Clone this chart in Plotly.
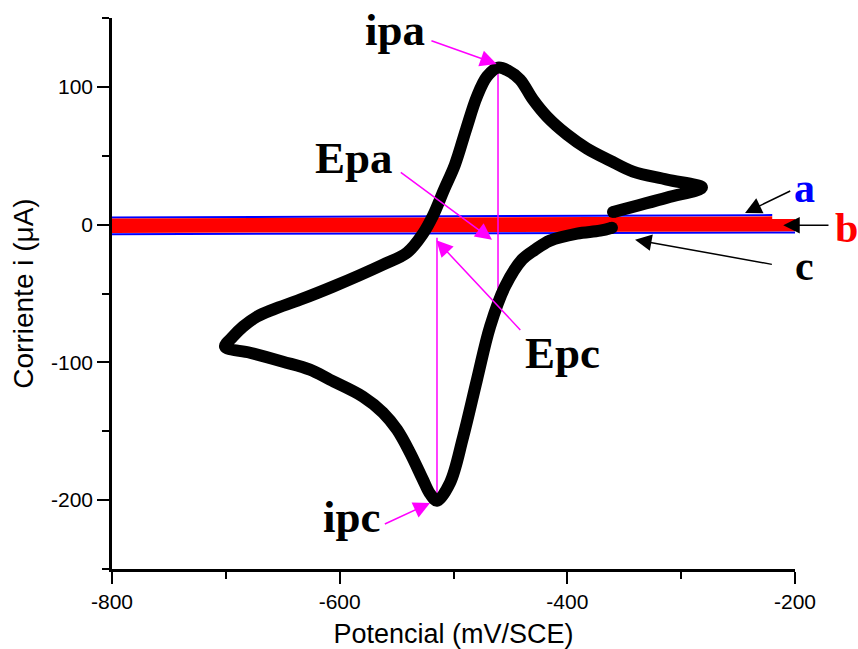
import numpy as np
import plotly.graph_objects as go

# --- Voltammogram c (black): scan starts near -360 mV, goes cathodic to -700 mV,
#     returns anodic to -280 mV and back to -360 mV ---
potential_c = [
    -360.8, -371.3, -391.5, -415.2, -428.4, -439.8, -454.8, -467.9, -479.4, -491.7,
    -503.1, -514.5, -520.6, -526.8, -538.2, -549.6, -561.9, -579.5, -608.5, -626.1,
    -649.8, -678.8, -700.7,
    -693.7, -684.9, -672.6, -658.6, -634.8, -605.9, -561.9, -540.8, -526.8, -518.0,
    -508.3, -498.7, -489.0, -479.4, -470.6, -460.9, -452.1, -441.6, -430.2, -417.9,
    -400.3, -382.7, -362.5, -342.3, -312.4, -281.7, -312.4, -359.9,
]
current_c = [
    -2.2, -4.4, -6.5, -11.6, -18.2, -25.4, -45.0, -74.1, -112.6, -154.7,
    -187.4, -200.4, -195.4, -185.2, -165.6, -148.9, -136.5, -124.9, -112.6, -105.3,
    -99.5, -93.0, -88.6,
    -81.3, -74.1, -66.8, -61.7, -54.5, -45.0, -29.0, -20.3, -6.5, 6.5,
    25.4, 43.6, 69.0, 93.0, 107.5, 114.0, 111.8, 105.3, 90.8, 78.4,
    65.4, 55.2, 46.5, 38.5, 32.7, 26.9, 19.6, 9.1,
]

# --- Voltammogram a (blue): forward scan, then reverse scan ---
potential_a = [-800, -220, None, -200, -800]
current_a = [5.2, 6.9, None, -5.7, -6.9]

# --- Voltammogram b (red): filled envelope of forward / reverse scans ---
potential_b = [-800, -220, -220, -200, -200, -800]
current_b = [4.4, 6.0, 4.1, 4.1, -4.9, -6.0]

# --- axis ticks ---
x_ticks = [-800, -600, -400, -200]
x_tick_text = ["-800", "-600", "-400", "-200"]
y_ticks = [-200, -100, 0, 100]
y_tick_text = ["-200", "-100", "0", "100"]

x_c = np.array(potential_c)
y_c = np.array(current_c)

# peak positions from the curve itself
i_pa = int(np.argmax(y_c))
i_pc = int(np.argmin(y_c))
E_pa, ip_a = x_c[i_pa], y_c[i_pa]
E_pc, ip_c = x_c[i_pc], y_c[i_pc]

# current of the cathodic (return) branch at E_pa
lower_x = x_c[:i_pc + 1][::-1]
lower_y = y_c[:i_pc + 1][::-1]
y_at_epa = float(np.interp(E_pa, lower_x, lower_y))

MAGENTA = "#ff00ff"

fig = go.Figure()

fig.add_trace(go.Scatter(x=potential_a, y=current_a, mode="lines",
                         line=dict(color="#0000ff", width=2), hoverinfo="skip"))
fig.add_trace(go.Scatter(x=potential_b, y=current_b, mode="lines", fill="toself",
                         fillcolor="#ff0000", line=dict(color="#ff0000", width=0),
                         hoverinfo="skip"))

# peak-potential guide lines
fig.add_trace(go.Scatter(x=[E_pa, E_pa], y=[ip_a - 4, y_at_epa], mode="lines",
                         line=dict(color=MAGENTA, width=1.5), hoverinfo="skip"))
fig.add_trace(go.Scatter(x=[E_pc, E_pc], y=[-9.5, ip_c], mode="lines",
                         line=dict(color=MAGENTA, width=1.5), hoverinfo="skip"))

fig.add_trace(go.Scatter(x=potential_c, y=current_c, mode="lines",
                         line=dict(color="black", width=12, shape="spline", smoothing=1.0),
                         hoverinfo="skip"))
# rounded ends of the scan
fig.add_trace(go.Scatter(x=[potential_c[0], potential_c[-1]],
                         y=[current_c[0], current_c[-1]], mode="markers",
                         marker=dict(color="black", size=12, line=dict(width=0)),
                         hoverinfo="skip"))

SERIF = "Liberation Serif, Times New Roman, serif"


def label(text, xp, yp, color="black", size=45):
    fig.add_annotation(text=text, x=xp, y=yp, xref="paper", yref="paper",
                       xanchor="center", yanchor="middle", showarrow=False,
                       font=dict(family=SERIF, size=size, weight="bold", color=color))


def arrow(x, y, ax, ay, color):
    fig.add_annotation(text="", x=x, y=y, xref="x", yref="y", ax=ax, ay=ay,
                       showarrow=True, arrowhead=2, arrowsize=2.2, arrowwidth=1.5,
                       arrowcolor=color, standoff=0)


label("ipa", 0.4143, 0.9780)
label("Epa", 0.3543, 0.7460)
label("Epc", 0.6589, 0.3920)
label("ipc", 0.3514, 0.0945)
label("a", 1.0146, 0.6915, "#0000ff", 42)
label("b", 1.0747, 0.6189, "#ff0000", 42)
label("c", 1.0132, 0.5499, "black", 42)

arrow(-462.1, 116.6, -66.7, -23.8, MAGENTA)
arrow(-466.2, -10.9, -92.7, -68.3, MAGENTA)
arrow(-515.1, -11.3, 85.4, 91.2, MAGENTA)
arrow(-520.6, -202.1, -46.7, 21.7, MAGENTA)
arrow(-243.9, 8.5, 46.7, -22.6, "black")
arrow(-210.3, -0.5, 46.7, 0, "black")
arrow(-340.5, -10.9, 138.3, 25, "black")

TICK_FONT = dict(family="Arial, Liberation Sans, sans-serif", size=21, color="black")

axis_common = dict(showline=True, linecolor="black", linewidth=2.5, ticks="outside",
                   ticklen=12, tickwidth=2, tickcolor="black", showgrid=False,
                   zeroline=False, tickfont=TICK_FONT, mirror=False, automargin=False)

fig.update_xaxes(range=[-800, -200], tickmode="array", tickvals=x_ticks,
                 ticktext=x_tick_text,
                 minor=dict(tickmode="linear", tick0=-800, dtick=100, ticks="outside",
                            ticklen=7, tickwidth=2, tickcolor="black", showgrid=False),
                 title=dict(text="Potencial (mV/SCE)", standoff=22,
                            font=dict(family="Arial, Liberation Sans, sans-serif",
                                      size=27, color="black")),
                 **axis_common)
fig.update_yaxes(range=[-250, 150], tickmode="array", tickvals=y_ticks,
                 ticktext=y_tick_text,
                 minor=dict(tickmode="linear", tick0=-250, dtick=50, ticks="outside",
                            ticklen=7, tickwidth=2, tickcolor="black", showgrid=False),
                 title=dict(text="Corriente i (μA)", standoff=10,
                            font=dict(family="Arial, Liberation Sans, sans-serif",
                                      size=28, color="black")),
                 **axis_common)

fig.update_layout(width=858, height=649, margin=dict(l=112, r=63, t=18, b=80),
                  plot_bgcolor="white", paper_bgcolor="white", showlegend=False)

fig.write_html("out.html")
